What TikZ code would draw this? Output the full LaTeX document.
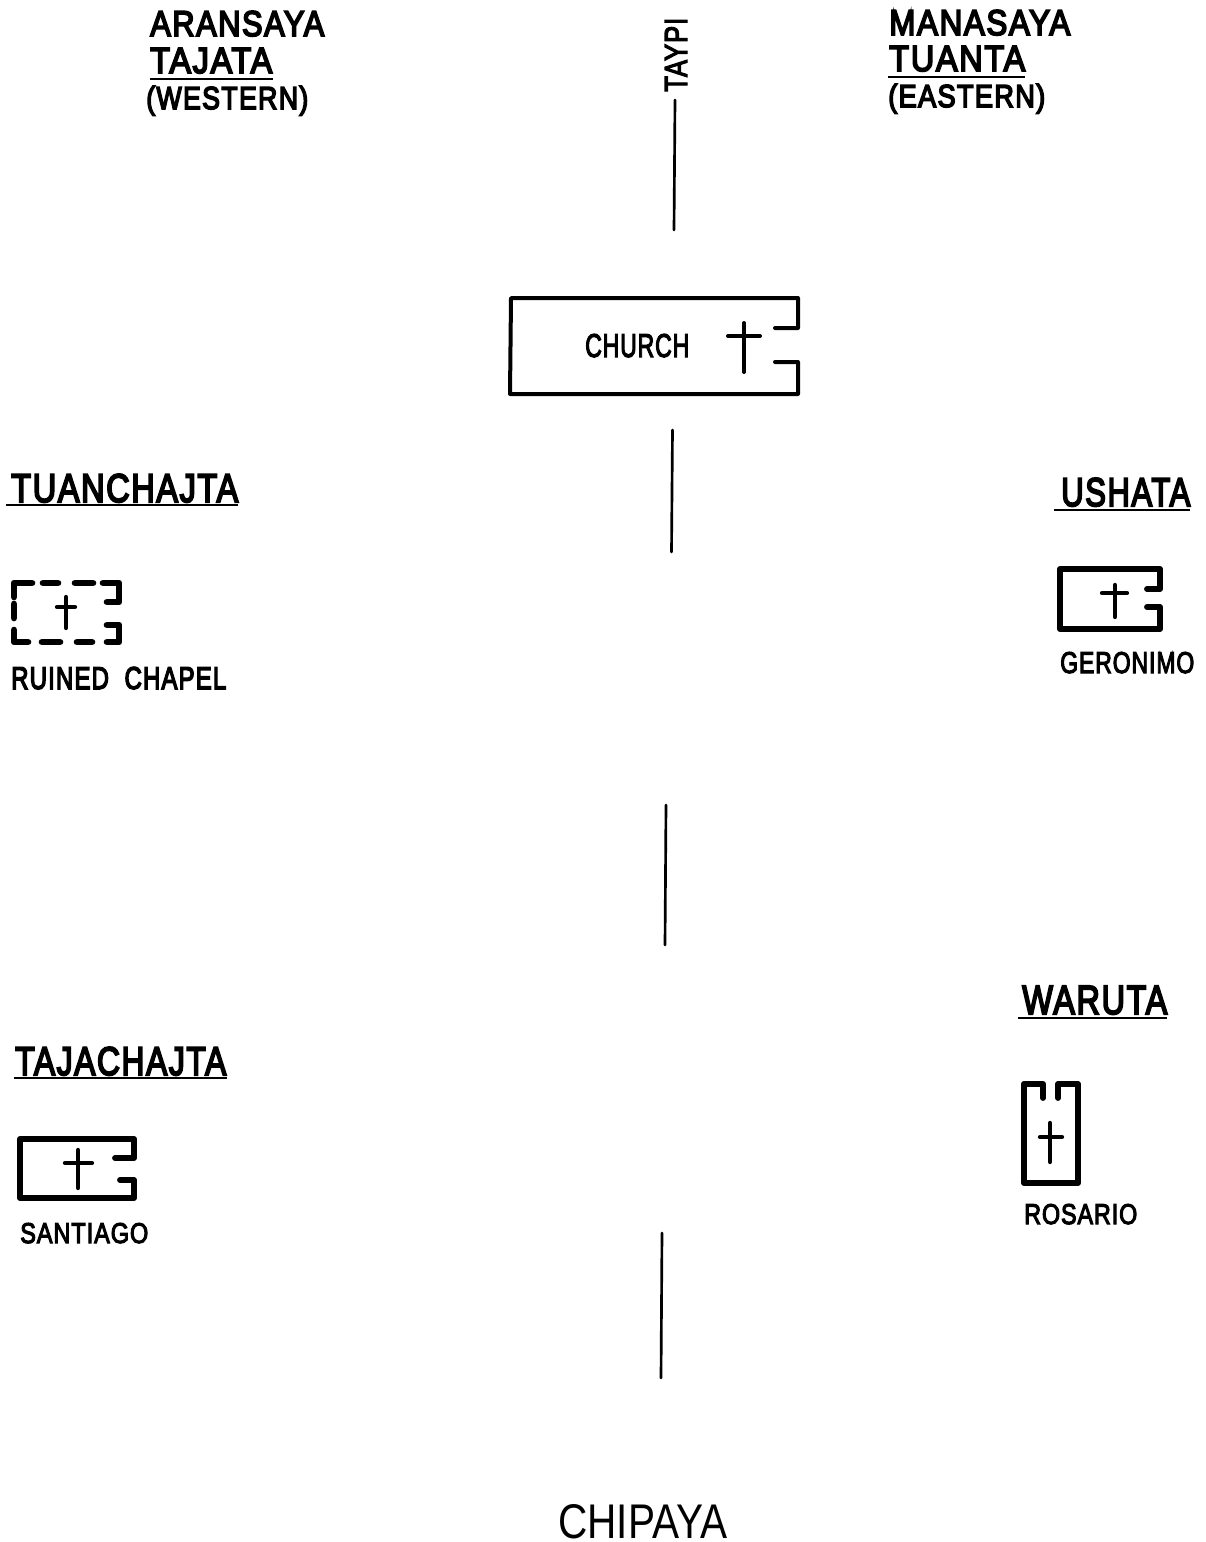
\documentclass[tikz,border=0pt]{standalone}
\usepackage{fontspec}
\usepackage{graphicx}
\setmainfont{Liberation Sans}
\newfontfamily\lett[FakeBold=5,LetterSpace=5]{Liberation Sans}
\newfontfamily\lettlight[FakeBold=4,LetterSpace=4]{Liberation Sans}
\newdimen\pxu \pxu=.75pt
\newcommand\lbl[7][lab]{\node[#1] (#2) at (#3,#4) {\resizebox{#5\pxu}{#6\pxu}{#7}};}
\tikzset{
  lab/.style={anchor=base west,inner sep=0pt,font=\lett},
  smalllab/.style={anchor=base west,inner sep=0pt,font=\lettlight},
  thinlab/.style={anchor=base west,inner sep=0pt},
  ink/.style={line width=3pt,line cap=round,line join=round,black},
  hv/.style={ink,line width=4.4pt},
  mid/.style={ink,line width=3.2pt},
  rule/.style={ink,line width=2pt},
  ul/.style={ink,line width=2pt,line cap=butt},
}
\begin{document}
\begin{tikzpicture}[x=.75pt,y=-.75pt]
\useasboundingbox (0,0) rectangle (1206,1542);
% headings left
\lbl{aran}{150}{36}{174}{25}{ARANSAYA}
\lbl{taj}{150}{73}{122}{25}{TAJATA}
\lbl{west}{146}{109}{162}{23}{(WESTERN)}
\coordinate (ta1) at (150,79); \coordinate (ta2) at (273,79);
\draw[ul] (ta1) -- (ta2);
% headings right
\lbl{mana}{889}{35}{181}{25}{MANASAYA}
\lbl{tuan}{889}{71}{136}{25}{TUANTA}
\lbl{east}{888}{107}{157}{23}{(EASTERN)}
\coordinate (tu1) at (888,77); \coordinate (tu2) at (1025,77);
\draw[ul] (tu1) -- (tu2);
% taypi
\node[smalllab,rotate=90] (taypi) at (687,92) {\resizebox{74\pxu}{22\pxu}{TAYPI}};
% axis
\coordinate (a1) at (675,100); \coordinate (a2) at (674,230);
\coordinate (b1) at (672.5,430); \coordinate (b2) at (671.5,552);
\coordinate (c1) at (666,805); \coordinate (c2) at (665,945);
\coordinate (d1) at (662,1233); \coordinate (d2) at (661,1378);
\draw[rule] (a1) -- (a2);
\draw[rule] (b1) -- (b2);
\draw[rule] (c1) -- (c2);
\draw[rule] (d1) -- (d2);
% church
\draw[ink] (775,328) -- (798,328) -- (798,298) -- (511,298) -- (510,394) -- (798,394) -- (798,362) -- (775,362);
\draw[ink] (744,323) -- (744,372);
\draw[ink] (728,336) -- (760,336);
\lbl[smalllab]{church}{585}{357}{104}{23}{CHURCH}
% tuanchajta
\lbl{tuanch}{11}{502}{227}{28}{TUANCHAJTA}
\coordinate (tc1) at (6,505); \coordinate (tc2) at (238,505);
\draw[ul] (tc1) -- (tc2);
\begin{scope}[hv,line width=5pt]
\draw (14,597) -- (14,583) -- (32,583);
\draw (43,583) -- (58,583);
\draw (75,583) -- (93,583);
\draw (103,583) -- (119,583) -- (119,602) -- (107,602);
\draw (14,604) -- (14,618);
\draw (14,630) -- (14,642) -- (28,642);
\draw (42,642) -- (60,642);
\draw (77,642) -- (92,642);
\draw (107,625) -- (119,625) -- (119,642) -- (107,642);
\end{scope}
\draw[mid] (66,597) -- (66,628);
\draw[mid] (57,607) -- (75,607);
\lbl{ruined}{11}{689}{215}{22}{RUINED\ \ CHAPEL}
% ushata
\lbl{ush}{1061}{506}{129}{28}{USHATA}
\coordinate (us1) at (1054,510); \coordinate (us2) at (1190,510);
\draw[ul] (us1) -- (us2);
\draw[hv] (1147,589) -- (1160,589) -- (1160,569) -- (1060,569) -- (1060,629) -- (1160,629) -- (1160,607) -- (1147,607);
\draw[mid] (1115,585) -- (1115,617);
\draw[mid] (1102,593) -- (1127,593);
\lbl[smalllab]{ger}{1060}{673}{134}{21}{GERONIMO}
% waruta
\lbl{war}{1022}{1014}{145}{28}{WARUTA}
\coordinate (wa1) at (1018,1018); \coordinate (wa2) at (1167,1018);
\draw[ul] (wa1) -- (wa2);
\draw[hv] (1043,1098) -- (1043,1084) -- (1024,1084) -- (1024,1183) -- (1078,1183) -- (1078,1084) -- (1058,1084) -- (1058,1098);
\draw[mid] (1050,1123) -- (1050,1162);
\draw[mid] (1040,1137) -- (1062,1137);
\lbl[smalllab]{ros}{1024}{1224}{113}{20}{ROSARIO}
% tajachajta
\lbl{tajach}{15}{1075}{211}{28}{TAJACHAJTA}
\coordinate (tj1) at (14,1078); \coordinate (tj2) at (227,1078);
\draw[ul] (tj1) -- (tj2);
\draw[hv] (115,1158) -- (134,1158) -- (134,1139) -- (20,1139) -- (20,1198) -- (134,1198) -- (134,1180) -- (120,1180);
\draw[mid] (78,1150) -- (78,1188);
\draw[mid] (65,1163) -- (92,1163);
\lbl[smalllab]{sant}{20}{1243}{128}{20}{SANTIAGO}
% title
\lbl[thinlab]{chip}{558}{1538}{169}{34}{CHIPAYA}
\end{tikzpicture}
\end{document}
